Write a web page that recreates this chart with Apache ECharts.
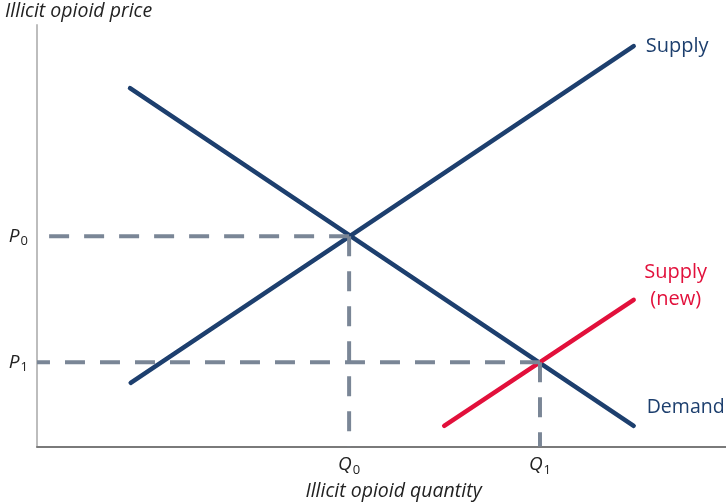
<!DOCTYPE html>
<html><head><meta charset="utf-8">
<script src="https://cdn.jsdelivr.net/npm/echarts@6/dist/echarts.min.js"></script>
<style>html,body{margin:0;padding:0;background:#fff}#c{width:726px;height:503px}</style>
</head><body><div id="c"></div>
<script>
// Conceptual supply/demand chart (arbitrary 0-100 units)
const demand = [[13.5, 85.0], [86.6, 4.9]];
const supply = [[13.6, 15.1], [86.6, 95.0]];
const supplyNew = [[59.1, 4.9], [86.6, 34.8]];
const Q0 = 45.3, P0 = 49.9;   // original equilibrium
const Q1 = 73.0, P1 = 20.0;   // new equilibrium
const xTickValues = [Q0, Q1];
const xTickLabels = ['Q|0', 'Q|1'];
const yTickValues = [P0, P1];
const yTickLabels = ['P|0', 'P|1'];
const seriesNames = ['Demand', 'Supply', 'Supply\n(new)'];

const FONT = 'Open Sans';
const NAVY = '#1d3f6e';
const RED = '#e2103b';
const GRAY = '#7a8696';

function subLabel(vals, labels) {
  return function (v) {
    let i = vals.findIndex(x => Math.abs(x - v) < 1e-6);
    if (i < 0) return '';
    const [a, b] = labels[i].split('|');
    return '{a|' + a + '}{b|' + b + '}';
  };
}
const rich = {
  a: { fontFamily: FONT, fontStyle: 'italic', fontSize: 19, color: '#222' },
  b: { fontFamily: FONT, fontSize: 13, color: '#222', padding: [10, 0, 0, 1] }
};

function dashSeries(from, to) {
  return {
    type: 'line', data: [from, to], symbol: 'none', silent: true, z: 5,
    lineStyle: { color: GRAY, width: 4, type: [20, 15], cap: 'butt' }
  };
}

const chart = echarts.init(document.getElementById('c'), null, { renderer: 'canvas' });
chart.setOption({
  animation: false,
  grid: { left: 37, right: 0, top: 25, bottom: 56.5, containLabel: false, outerBoundsMode: 'none' },
  xAxis: {
    type: 'value', min: 0, max: 100,
    splitLine: { show: false },
    axisLine: { show: true, lineStyle: { color: '#7a7a7a', width: 2 } },
    axisTick: { show: false },
    axisLabel: { show: true, customValues: xTickValues, formatter: subLabel(xTickValues, xTickLabels), rich: rich, margin: 7 },
    name: 'Illicit opioid quantity', nameLocation: 'middle', nameGap: 34,
    nameTextStyle: { fontFamily: FONT, fontStyle: 'italic', fontSize: 19.5, color: '#222', padding: [0, 0, 0, 24] }
  },
  yAxis: {
    type: 'value', min: 0, max: 100,
    splitLine: { show: false },
    axisLine: { show: true, lineStyle: { color: '#bdbdbd', width: 2 } },
    axisTick: { show: false },
    axisLabel: { show: true, customValues: yTickValues, formatter: subLabel(yTickValues, yTickLabels), rich: rich, margin: 9 },
    name: 'Illicit opioid price', nameLocation: 'end', nameGap: 4,
    nameTextStyle: { fontFamily: FONT, fontStyle: 'italic', fontSize: 19.5, color: '#222', align: 'left', padding: [0, 0, 0, -32] }
  },
  series: [
    {
      name: seriesNames[0], type: 'line', symbol: 'none', z: 3,
      data: demand.map((d, i) => i === demand.length - 1 ? { value: d, symbol: 'circle', symbolSize: 0.1, label: { show: true, position: 'right', offset: [8, -18], formatter: seriesNames[0], fontFamily: FONT, fontSize: 19.5, color: NAVY } } : d),
      lineStyle: { color: NAVY, width: 4.5, cap: 'round' }
    },
    {
      name: seriesNames[1], type: 'line', symbol: 'none', z: 3,
      data: supply.map((d, i) => i === supply.length - 1 ? { value: d, symbol: 'circle', symbolSize: 0.1, label: { show: true, position: 'right', offset: [7, 0], formatter: seriesNames[1], fontFamily: FONT, fontSize: 20, color: NAVY } } : d),
      lineStyle: { color: NAVY, width: 4.5, cap: 'round' }
    },
    {
      name: seriesNames[2], type: 'line', symbol: 'none', z: 3,
      data: supplyNew.map((d, i) => i === supplyNew.length - 1 ? { value: d, symbol: 'circle', symbolSize: 0.1, label: { show: true, position: 'right', offset: [2, -14], formatter: seriesNames[2], align: 'center', fontFamily: FONT, fontSize: 20, lineHeight: 27, color: RED, padding: [0, 0, 0, 70] } } : d),
      lineStyle: { color: RED, width: 4.5, cap: 'round' }
    },
    dashSeries([Q0, P0], [0, P0]),
    dashSeries([Q0, P0], [Q0, 0]),
    dashSeries([Q1, P1], [0, P1]),
    dashSeries([Q1, P1], [Q1, 0])
  ]
});
</script></body></html>
